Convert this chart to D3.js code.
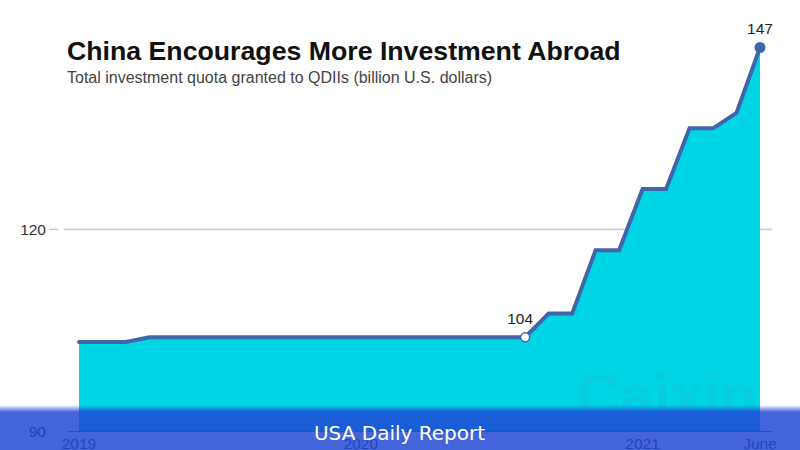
<!DOCTYPE html>
<html><head><meta charset="utf-8">
<script src="https://cdn.jsdelivr.net/npm/d3@7"></script>
<style>html,body{margin:0;padding:0;background:#fff}svg{display:block}</style>
</head><body><svg id="c" width="800" height="450"></svg>
<script>
const title = "China Encourages More Investment Abroad";
const subtitle = "Total investment quota granted to QDIIs (billion U.S. dollars)";
const banner = "USA Daily Report";
const months = d3.range(0, 30);
const quota = [103.3,103.3,103.3,104,104,104,104,104,104,104,104,104,104,104,104,104,104,104,104,104,107.5,107.5,116.9,116.9,126,126,135,135,137.3,147];
const yTicks = [90,120];
const xTickMonths = [0,12,24,29];
const xTickLabels = ["2019","2020","2021","June"];
const highlights = [{i:19,label:"104",fill:"#fff"},{i:29,label:"147",fill:"#3f66a8"}];

const svg = d3.select("#c");
const x = d3.scaleLinear().domain([0,29]).range([79,760]);
const y = d3.scaleLinear().domain([90,147]).range([431.5,47.5]);
const fontA = "Liberation Sans, Arial, sans-serif";

svg.append("line").attr("x1",64).attr("x2",772).attr("y1",y(120)).attr("y2",y(120)).attr("stroke","#d2d2d2").attr("stroke-width",1.6);
svg.append("line").attr("x1",49).attr("x2",58).attr("y1",y(120)).attr("y2",y(120)).attr("stroke","#c4c4c4").attr("stroke-width",1.2);

svg.append("path").datum(months)
  .attr("d",d3.area().x(i=>x(i)).y0(y(90)).y1(i=>y(quota[i])))
  .attr("fill","#00d5e6");

// watermark
svg.append("text").attr("x",667).attr("y",416).attr("text-anchor","middle")
  .attr("font-family",fontA).attr("font-weight","700").attr("font-size",60)
  .attr("fill","#08cddf").text("Caixin");

svg.append("line").attr("x1",68).attr("x2",772).attr("y1",y(90)).attr("y2",y(90)).attr("stroke","#777").attr("stroke-width",1);

svg.append("path").datum(months)
  .attr("d",d3.line().x(i=>x(i)).y(i=>y(quota[i])))
  .attr("fill","none").attr("stroke","#3f66a8").attr("stroke-width",4).attr("stroke-linejoin","miter").attr("stroke-linecap","round");

highlights.forEach(h=>{
  svg.append("circle").attr("cx",x(h.i)).attr("cy",y(quota[h.i])).attr("r",h.fill==="#fff"?4.5:5.5)
    .attr("fill",h.fill).attr("stroke","#3f66a8").attr("stroke-width",h.fill==="#fff"?1.5:0);
  svg.append("text").attr("x",x(h.i)-(h.i===19?5:0)).attr("y",y(quota[h.i])-(h.i===19?13:14)).attr("text-anchor","middle")
    .attr("font-family",fontA).attr("font-size",15.5).attr("fill","#222").text(h.label);
});

svg.selectAll(".yl").data(yTicks).join("text").attr("class","yl")
  .attr("x",46).attr("y",d=>y(d)+5.5).attr("text-anchor","end")
  .attr("font-family",fontA).attr("font-size",15.5).attr("fill","#333").text(d=>d);

svg.selectAll(".xl").data(xTickMonths).join("text").attr("class","xl")
  .attr("x",d=>x(d)).attr("y",449).attr("text-anchor","middle")
  .attr("font-family",fontA).attr("font-size",15.5).attr("fill","#444").text((d,i)=>xTickLabels[i]);

svg.append("text").attr("x",67).attr("y",60).attr("font-family",fontA).attr("font-weight","700")
  .attr("font-size",26.7).attr("fill","#111").text(title);
svg.append("text").attr("x",67).attr("y",83).attr("font-family",fontA)
  .attr("font-size",16).attr("fill","#444").text(subtitle);

// banner
const defs = svg.append("defs");
const g = defs.append("linearGradient").attr("id","bg").attr("x1",0).attr("x2",0).attr("y1",0).attr("y2",1);
g.append("stop").attr("offset",0).attr("stop-color","#1f46d4").attr("stop-opacity",0);
g.append("stop").attr("offset",1).attr("stop-color","#1f46d4").attr("stop-opacity",0.835);
svg.append("rect").attr("x",0).attr("y",405).attr("width",800).attr("height",7).attr("fill","url(#bg)");
svg.append("rect").attr("x",0).attr("y",412).attr("width",800).attr("height",38).attr("fill","#1f46d4").attr("fill-opacity",0.835);
svg.append("text").attr("x",399.5).attr("y",440).attr("text-anchor","middle")
  .attr("font-family","DejaVu Sans").attr("font-size",20).attr("fill","#fff").text(banner);
</script></body></html>
